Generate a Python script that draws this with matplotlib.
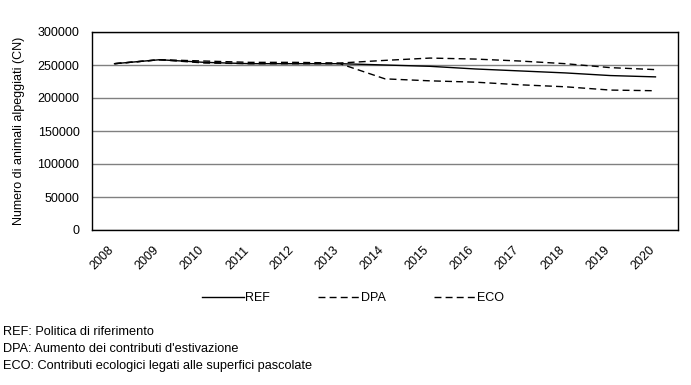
import numpy as np
import matplotlib
matplotlib.use("Agg")
import matplotlib.pyplot as plt
import matplotlib.transforms as mtrans

plt.rcParams['font.family'] = ['Liberation Sans', 'DejaVu Sans']

years = ["2008", "2009", "2010", "2011", "2012", "2013", "2014",
         "2015", "2016", "2017", "2018", "2019", "2020"]
ref = [252000, 258000, 254000, 252000, 252000, 252000, 250000,
       248000, 244000, 241000, 238000, 234000, 232000]
dpa = [252000, 258000, 256000, 254000, 254000, 253000, 257000,
       260500, 259000, 256000, 252000, 246000, 243000]
eco = [252000, 258000, 253000, 252000, 252000, 252000, 229000,
       226000, 224000, 220000, 217000, 212000, 211000]
notes = ["REF: Politica di riferimento",
         "DPA: Aumento dei contributi d'estivazione",
         "ECO: Contributi ecologici legati alle superfici pascolate"]

fig = plt.figure(figsize=(6.91, 3.85), dpi=100)
ax = fig.add_axes([92/691, 1-230/385, 586/691, 198/385])

x = np.arange(len(years))
ax.plot(x, ref, color="black", lw=1.0, label="REF")
ax.plot(x, dpa, color="black", lw=1.0, ls=(0, (5, 3)), label="DPA")
ax.plot(x, eco, color="black", lw=1.0, ls=(0, (5, 3)), label="ECO")

ax.set_xlim(-0.5, len(years) - 0.5)
ax.set_ylim(0, 300000)
ax.set_yticks(np.arange(0, 300001, 50000))
ax.set_yticklabels([str(v) for v in range(0, 300001, 50000)], fontsize=9)
ax.yaxis.grid(True, color="#808080", lw=1.0)
ax.set_axisbelow(True)
ax.tick_params(axis="y", length=0, pad=9)
ax.tick_params(axis="x", length=0, pad=0)
ax.set_xticks(x)
ax.set_xticklabels(years, rotation=45, ha="right", va="top",
                   rotation_mode="anchor", fontsize=9)
shift = mtrans.ScaledTranslation(-7/100, -14/100, fig.dpi_scale_trans)
for lab in ax.get_xticklabels():
    lab.set_transform(lab.get_transform() + shift)
for s in ax.spines.values():
    s.set_color("black")
    s.set_linewidth(1.0)
ax.set_ylabel("Numero di animali alpeggiati (CN)", fontsize=9, labelpad=9)

fig.legend(loc="center", bbox_to_anchor=(353/691, 1-298/385), ncol=3,
           frameon=False, fontsize=9, handlelength=3.4, handletextpad=0.1,
           columnspacing=3.8)

for i, t in enumerate(notes):
    fig.text(3/691, 1-(332+i*17)/385, t, fontsize=9.2, va="center", ha="left")

fig.savefig("out.png", dpi=100)
